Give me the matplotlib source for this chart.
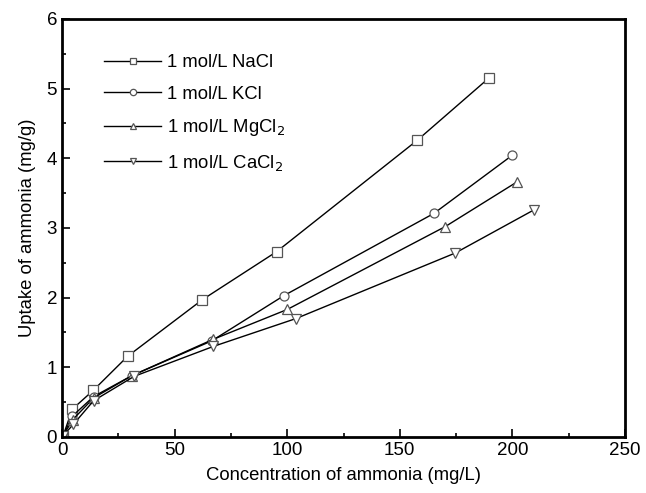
import matplotlib
matplotlib.use("Agg")
import matplotlib.pyplot as plt
from matplotlib.ticker import MultipleLocator

plt.rcParams['font.family'] = ['Liberation Sans', 'DejaVu Sans']

# concentration (mg/L) and uptake (mg/g)
nacl_x = [0.5, 4.6, 13.9, 29.2, 62.3, 95.3, 157.8, 189.5]
nacl_y = [0.02, 0.40, 0.67, 1.16, 1.97, 2.66, 4.26, 5.15]
kcl_x = [0.5, 4.6, 14.0, 31.0, 66.5, 98.6, 165.2, 199.8]
kcl_y = [0.02, 0.30, 0.58, 0.88, 1.38, 2.03, 3.21, 4.04]
mgcl_x = [0.5, 4.8, 14.0, 31.0, 67.0, 100.0, 170.2, 202.0]
mgcl_y = [0.02, 0.25, 0.56, 0.88, 1.40, 1.83, 3.02, 3.66]
cacl_x = [0.5, 5.0, 14.0, 32.0, 67.2, 103.9, 174.6, 209.6]
cacl_y = [0.02, 0.18, 0.52, 0.87, 1.30, 1.70, 2.64, 3.26]

labels = ['1 mol/L NaCl', '1 mol/L KCl', '1 mol/L MgCl$_2$', '1 mol/L CaCl$_2$']
markers = ['s', 'o', '^', 'v']

fig = plt.figure(figsize=(6.46, 4.93), dpi=100)
ax = fig.add_axes([0.096, 0.1136, 0.8715, 0.848])

series = [(nacl_x, nacl_y), (kcl_x, kcl_y), (mgcl_x, mgcl_y), (cacl_x, cacl_y)]
for (xs, ys), lab, mk in zip(series, labels, markers):
    ax.plot(xs, ys, color='black', lw=1.0, marker=mk, markersize=6.5,
            markerfacecolor='white', markeredgecolor='#555555', markeredgewidth=0.9,
            label=lab)

ax.set_xlim(0, 250)
ax.set_ylim(0, 6)
ax.xaxis.set_major_locator(MultipleLocator(50))
ax.xaxis.set_minor_locator(MultipleLocator(25))
ax.yaxis.set_major_locator(MultipleLocator(1))
ax.yaxis.set_minor_locator(MultipleLocator(0.5))
ax.tick_params(which='both', direction='in', top=False, right=False, labelsize=13.5, width=1.2)
ax.tick_params(which='major', length=6)
ax.tick_params(which='minor', length=3)
for sp in ax.spines.values():
    sp.set_linewidth(2)

ax.set_xlabel('Concentration of ammonia (mg/L)', fontsize=13.3, labelpad=6)
ax.set_ylabel('Uptake of ammonia (mg/g)', fontsize=13.3, labelpad=8)

ax.legend(loc='upper left', bbox_to_anchor=(0.045, 0.955), frameon=False, fontsize=13.3,
          handlelength=3.1, handletextpad=0.3, labelspacing=0.78, markerscale=0.7)

fig.savefig('out.png', dpi=100)
